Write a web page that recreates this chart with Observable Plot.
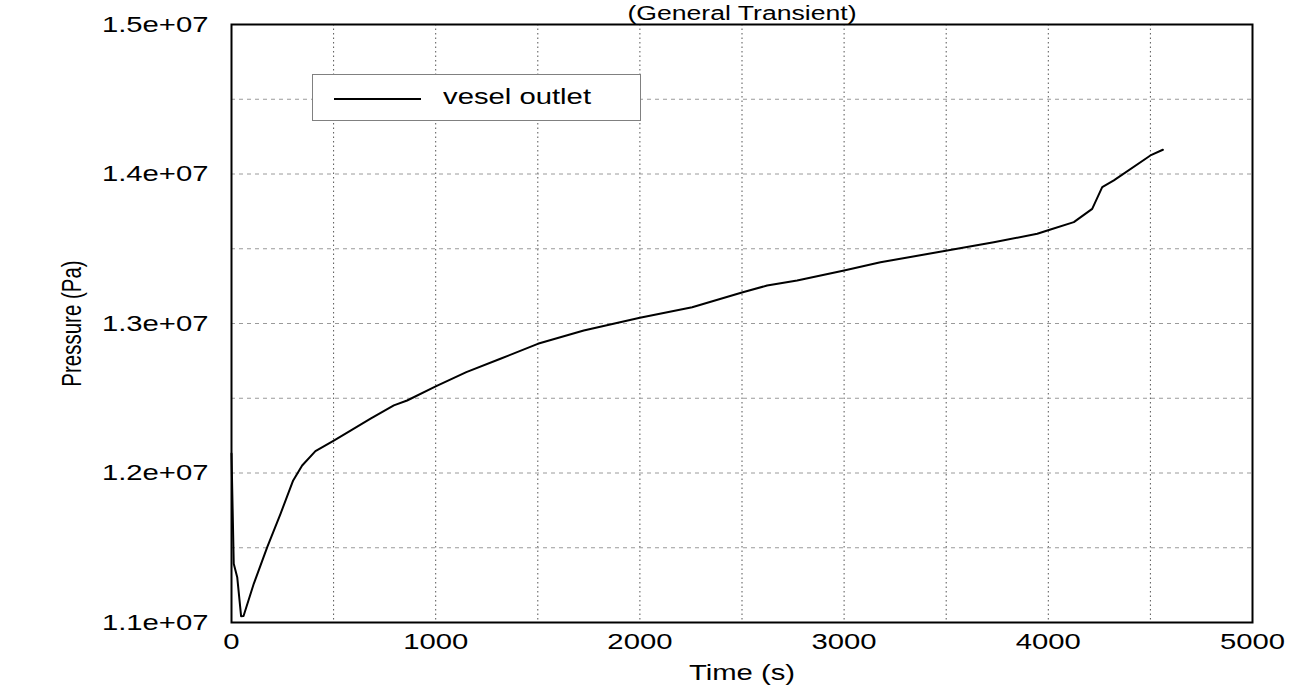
<!DOCTYPE html>
<html>
<head>
<meta charset="utf-8">
<script src="https://cdn.jsdelivr.net/npm/d3@7"></script>
<script src="https://cdn.jsdelivr.net/npm/@observablehq/plot@0.6"></script>
<style>
  html, body { margin: 0; padding: 0; background: white; }
  #wrap { position: relative; width: 1308px; height: 689px; overflow: hidden; }
  #legend { position: absolute; left: 312px; top: 74px; width: 329px; height: 47px; box-sizing: border-box;
            border: 1px solid #808080; background: white; font-family: "Liberation Sans", Arial, sans-serif; }
  #legend .swatch { position: absolute; left: 21px; top: 23px; width: 87px; height: 2px; background: black; }
  #legend .lab { position: absolute; left: 130px; top: 8px; font-size: 22px; line-height: 28px; white-space: nowrap;
                 transform: scaleX(1.33); transform-origin: left center; color: black; }
</style>
</head>
<body>
<div id="wrap"></div>
<script>
// ---- data ----
const times = [0, 11, 28, 47, 59, 109, 175, 240, 302, 346, 411, 501, 583, 681, 795, 860, 1000, 1150, 1317, 1500, 1725, 2000, 2256, 2504, 2623, 2770, 3000, 3178, 3505, 3733, 3946, 4007, 4125, 4215, 4264, 4321, 4500, 4561];
const pressures = [12130000, 11393000, 11303000, 11042000, 11043000, 11259000, 11504000, 11727000, 11950000, 12050000, 12146000, 12217000, 12284000, 12363000, 12452000, 12485000, 12580000, 12675000, 12764000, 12864000, 12953000, 13038000, 13109000, 13209000, 13254000, 13288000, 13355000, 13410000, 13488000, 13544000, 13600000, 13627000, 13678000, 13767000, 13912000, 13957000, 14124000, 14162000];
const seriesName = "vesel outlet";
const xTicks = [0, 1000, 2000, 3000, 4000, 5000];
const yTicks = [11000000, 12000000, 13000000, 14000000, 15000000];
const xGrid = [500, 1000, 1500, 2000, 2500, 3000, 3500, 4000, 4500];
const yGrid = [11500000, 12000000, 12500000, 13000000, 13500000, 14000000, 14500000];
const titleText = "(General Transient)";
const xLabel = "Time (s)";
const yLabel = "Pressure (Pa)";

const data = times.map((t, i) => ({t, p: pressures[i]}));
const fmtY = d => d.toExponential(1).replace(/e\+(\d)$/, "e+0$1");

const chart = Plot.plot({
  width: 1308, height: 689,
  marginLeft: 231, marginRight: 56, marginTop: 24, marginBottom: 67,
  style: {fontFamily: "'Liberation Sans', Arial, sans-serif", fontSize: "22px", background: "white", color: "black", overflow: "visible"},
  x: {domain: [0, 5000]},
  y: {domain: [11000000, 15000000]},
  marks: [
    Plot.gridX(xGrid, {stroke: "#555", strokeOpacity: 1, strokeDasharray: "1.5,3", strokeWidth: 1}),
    Plot.gridY(yGrid, {stroke: "#9a9a9a", strokeOpacity: 1, strokeDasharray: "4,4", strokeWidth: 1}),
    Plot.line(data, {x: "t", y: "p", stroke: "black", strokeWidth: 2}),
    Plot.frame({stroke: "black", strokeWidth: 2}),
    Plot.axisX(xTicks, {tickSize: 0, tickPadding: 11, tickFormat: d => String(d), label: null, fontSize: 22}),
    Plot.axisY(yTicks, {tickSize: 0, tickPadding: 23, tickFormat: fmtY, label: null, fontSize: 22}),
    Plot.text([titleText], {frameAnchor: "top", lineAnchor: "bottom", dy: -5, fontSize: 20}),
    Plot.text([xLabel], {frameAnchor: "bottom", lineAnchor: "middle", dy: 50, fontSize: 22}),
    Plot.text([yLabel], {frameAnchor: "left", textAnchor: "middle", lineAnchor: "middle", dx: -159, rotate: -90, fontSize: 20.5, className: "ylab"})
  ]
});

const wrap = document.getElementById("wrap");
wrap.appendChild(chart);

// horizontal stretch of the glyphs, as in the reference rendering
const S = 1.33;
chart.querySelectorAll("text").forEach(t => {
  if (t.closest(".ylab")) {
    // rotated label: stretch the glyph height (screen-horizontal direction)
    const tr = t.getAttribute("transform") || "";
    t.setAttribute("transform", tr + " scale(1," + S + ")");
    return;
  }
  const L = t.getComputedTextLength();
  if (L > 0) {
    t.setAttribute("textLength", (L * S).toFixed(1));
    t.setAttribute("lengthAdjust", "spacingAndGlyphs");
  }
});

// legend
const legend = document.createElement("div");
legend.id = "legend";
legend.innerHTML = '<div class="swatch"></div><span class="lab"></span>';
legend.querySelector(".lab").textContent = seriesName;
wrap.appendChild(legend);
</script>
</body>
</html>
